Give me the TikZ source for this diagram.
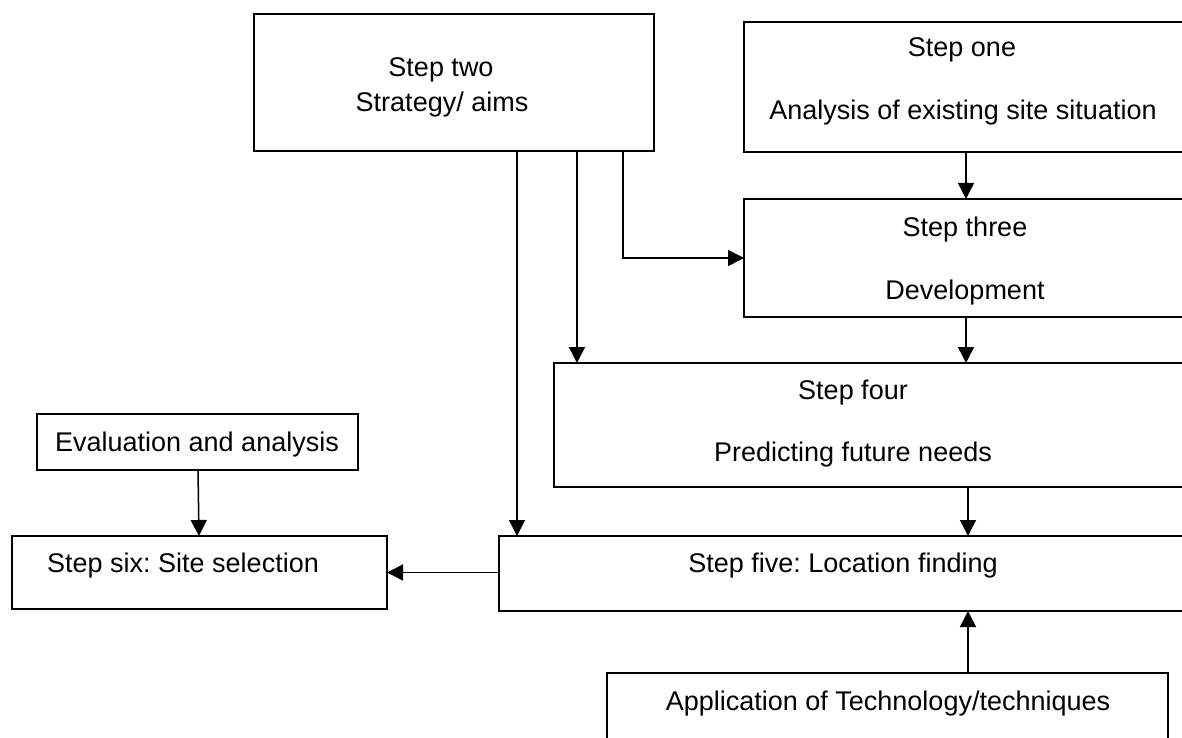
\documentclass[tikz,border=0pt]{standalone}
\usepackage{fontspec}
\setmainfont{Liberation Sans}
\usetikzlibrary{arrows.meta}
\begin{document}
\frenchspacing
\begin{tikzpicture}[x=1pt,y=-1pt,
  box/.style={draw,line width=1.5pt,anchor=north west,inner sep=0pt,outer sep=0pt},
  lbl/.style={font=\fontsize{27}{32}\selectfont,inner sep=0pt,anchor=base},
  arr/.style={line width=1.5pt,-{Triangle[length=16pt,width=16pt]}},
  ln/.style={line width=1.5pt}]
\useasboundingbox (0,0) rectangle (1182,738);
\clip (0,0) rectangle (1182,738);
% boxes
\node[box,minimum width=400pt,minimum height=137pt] (two)   at (254,14)  {};
\node[box,minimum width=460pt,minimum height=130pt] (one)   at (744,22)  {};
\node[box,minimum width=460pt,minimum height=118pt] (three) at (744,199) {};
\node[box,minimum width=650pt,minimum height=124pt] (four)  at (554,363) {};
\node[box,minimum width=700pt,minimum height=75pt]  (five)  at (499,536) {};
\node[box,minimum width=375pt,minimum height=73pt]  (six)   at (12,536)  {};
\node[box,minimum width=321pt,minimum height=56pt]  (eval)  at (37,414)  {};
\node[box,minimum width=561pt,minimum height=90pt]  (app)   at (607,673) {};
% labels
\node[lbl] (twoA)   at (441,77)  {Step two};
\node[lbl] (twoB)   at (442,112) {Strategy/ aims};
\node[lbl] (oneA)   at (962,57)  {Step one};
\node[lbl] (oneB)   at (963,120) {Analysis of existing site situation};
\node[lbl] (threeA) at (965,236) {Step three};
\node[lbl] (threeB) at (965,299) {Development};
\node[lbl] (fourA)  at (853,399) {Step four};
\node[lbl] (fourB)  at (853,461) {Predicting future needs};
\node[lbl] (fiveA)  at (843,572) {Step five: Location finding};
\node[lbl] (sixA)   at (183,572) {Step six: Site selection};
\node[lbl] (evalA)  at (197,451) {Evaluation and analysis};
\node[lbl] (appA)   at (888,710) {Application of Technology/techniques};
% connectors
\draw[arr] ([xshift=222pt]one.south west) -- ([xshift=222pt]one.south west |- three.north);
\draw[arr] ([xshift=222pt]three.south west) -- ([xshift=222pt]three.south west |- four.north);
\draw[arr] ([xshift=414pt]four.south west) -- ([xshift=414pt]four.south west |- five.north);
\draw[arr] ([xshift=361pt]app.north west) -- ([xshift=361pt]app.north west |- five.south);
\draw[arr] ([xshift=369pt]two.south west) |- (three.west);
\draw[arr] ([xshift=323pt]two.south west) -- ([xshift=323pt]two.south west |- four.north);
\draw[arr] ([xshift=263pt]two.south west) -- ([xshift=263pt]two.south west |- five.north);
\draw[arr] ([xshift=161pt]eval.south west) -- ([xshift=162pt]eval.south west |- six.north);
\draw[arr] (five.west |- six.east) -- (six.east);
\end{tikzpicture}
\end{document}
